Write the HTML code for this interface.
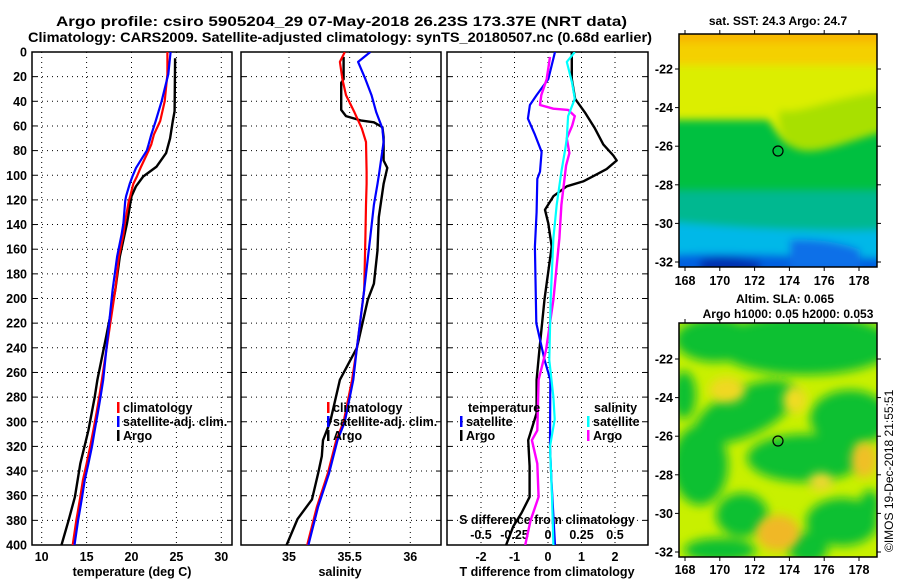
<!DOCTYPE html>
<html><head><meta charset="utf-8"><style>
html,body{margin:0;padding:0;background:#fff;}
svg{display:block;font-family:"Liberation Sans",sans-serif;font-weight:bold;}
</style></head><body>
<svg id="fig" width="900" height="580" viewBox="0 0 900 580" xmlns="http://www.w3.org/2000/svg">
<defs>
<filter id="blur" x="-20%" y="-20%" width="140%" height="140%"><feGaussianBlur stdDeviation="5"/></filter>
<filter id="blur2" x="-20%" y="-20%" width="140%" height="140%"><feGaussianBlur stdDeviation="4"/></filter>
<clipPath id="cm1"><rect x="679" y="34" width="198" height="233"/></clipPath>
<clipPath id="cm2"><rect x="679" y="323" width="198" height="234"/></clipPath>
<clipPath id="cp1"><rect x="32" y="52" width="200" height="493"/></clipPath>
<clipPath id="cp2"><rect x="241" y="52" width="200" height="493"/></clipPath>
<clipPath id="cp3"><rect x="447" y="52" width="201" height="493"/></clipPath>
</defs>
<text x="56" y="26" font-size="14" textLength="571" lengthAdjust="spacingAndGlyphs">Argo profile: csiro 5905204_29 07-May-2018 26.23S 173.37E (NRT data)</text>
<text x="28" y="42" font-size="14" textLength="624" lengthAdjust="spacingAndGlyphs">Climatology: CARS2009. Satellite-adjusted climatology: synTS_20180507.nc (0.68d earlier)</text>

<g clip-path="url(#cm1)">
<rect x="679" y="34" width="198" height="233" fill="#00c040"/>
<g filter="url(#blur2)">
<rect x="670" y="25" width="220" height="95" fill="#d8ec00"/>
<path d="M670 25 H890 V118 C850 125 820 150 800 148 C780 150 770 115 760 112 C730 108 700 118 670 120 Z" fill="#dcee00"/>
<rect x="670" y="25" width="220" height="40" fill="#f4d000"/>
<rect x="670" y="25" width="220" height="18" fill="#f8b800"/>
<path d="M780 110 C800 115 820 100 890 90 V130 C850 140 820 155 800 150 C785 148 775 125 780 110Z" fill="#a8e000"/>
<rect x="670" y="190" width="220" height="40" fill="#00b890"/>
<path d="M670 222 C720 226 780 232 890 230 V280 H670Z" fill="#00b8e8"/>
<path d="M670 255 C720 252 760 255 890 258 V280 H670Z" fill="#0060e0"/>
<path d="M700 260 C720 255 740 258 760 262 V280 H700Z" fill="#0030b0"/>
<path d="M790 240 C820 238 850 245 860 250 V270 H790Z" fill="#1070e8"/>
</g>
</g>
<rect x="679" y="34" width="198" height="233" fill="none" stroke="#000" stroke-width="1.5"/>
<circle cx="778" cy="151" r="5" fill="none" stroke="#000" stroke-width="1.2"/>
<text x="778" y="25" font-size="12" text-anchor="middle">sat. SST: 24.3 Argo: 24.7</text>

<g clip-path="url(#cm2)">
<rect x="679" y="323" width="198" height="234" fill="#c8f000"/>
<g filter="url(#blur)" fill="#10c030">
<ellipse cx="805" cy="345" rx="90" ry="30"/>
<ellipse cx="715" cy="340" rx="40" ry="22"/>
<ellipse cx="745" cy="412" rx="55" ry="24" transform="rotate(-25 745 412)"/>
<ellipse cx="700" cy="465" rx="28" ry="40"/>
<ellipse cx="805" cy="458" rx="58" ry="24"/>
<ellipse cx="850" cy="418" rx="40" ry="28"/>
<ellipse cx="684" cy="395" rx="12" ry="24"/>
<ellipse cx="742" cy="515" rx="26" ry="22"/>
<ellipse cx="842" cy="522" rx="36" ry="24"/>
<ellipse cx="720" cy="550" rx="36" ry="12"/>
<ellipse cx="808" cy="548" rx="20" ry="16"/>
<ellipse cx="870" cy="505" rx="10" ry="15"/>
</g>
<g filter="url(#blur)">
<ellipse cx="727" cy="390" rx="18" ry="13" fill="#f0d820"/>
<ellipse cx="778" cy="533" rx="22" ry="18" fill="#f0b828"/>
<ellipse cx="864" cy="460" rx="13" ry="18" fill="#f0c028"/>
<ellipse cx="821" cy="482" rx="12" ry="9" fill="#f0d830"/>
<ellipse cx="795" cy="400" rx="12" ry="14" fill="#f0dc20"/>
</g>
</g>
<rect x="679" y="323" width="198" height="234" fill="none" stroke="#000" stroke-width="1.5"/>
<circle cx="778" cy="441" r="5" fill="none" stroke="#000" stroke-width="1.2"/>
<text x="785" y="303" font-size="12" text-anchor="middle">Altim. SLA: 0.065</text>
<text x="788" y="318" font-size="12" text-anchor="middle">Argo h1000: 0.05 h2000: 0.053</text>
<text transform="translate(893,552) rotate(-90)" font-size="12" font-weight="normal">©IMOS 19-Dec-2018 21:55:51</text>
<g id="plots"></g>
</svg>
<script>
// ---------- data ----------
const tempDepth = [0,18,40,56,67,75,80,94,101,107,117,121,139,148,166,193,266,280,293,307,320,334,347,361,374,380,400];
const tempClim = [24.0,24.0,23.7,23.2,22.5,22.2,21.9,21.0,20.6,20.2,19.85,19.7,19.25,19.1,18.6,18.2,16.7,16.4,16.1,15.75,15.4,15.0,14.6,14.3,14.0,13.85,13.45];
const tempSat  = [24.35,24.1,23.35,22.7,22.2,21.9,21.7,20.5,20.1,19.8,19.4,19.3,19.1,18.9,18.4,17.9,16.85,16.55,16.25,15.9,15.6,15.2,14.8,14.5,14.2,14.05,13.65];
const argoTDepth = [5,48,56,70,82,93,101,109,117,139,166,193,230,266,280,307,334,361,380,400];
const argoTemp   = [24.85,24.8,24.6,24.3,23.85,22.8,21.3,20.5,20.0,19.5,18.7,18.2,17.2,16.2,15.9,15.2,14.3,13.7,13.0,12.2];

const salDepth = [0,8,22,35,49,62,73,97,107,124,150,193,240,266,300,315,342,369,400];
const salClim  = [35.46,35.42,35.44,35.47,35.54,35.60,35.635,35.64,35.64,35.635,35.63,35.62,35.56,35.52,35.45,35.39,35.32,35.23,35.15];
const salSat   = [35.67,35.57,35.63,35.68,35.72,35.77,35.78,35.745,35.73,35.70,35.67,35.62,35.56,35.53,35.46,35.40,35.33,35.24,35.16];
const argoSDepth = [4,22,25,47,52,55.5,57,61,69,88,94,107,134,161,188,201,240,266,300,315,328,342,363,379,400];
const argoSal    = [35.45,35.45,35.43,35.43,35.47,35.59,35.70,35.77,35.78,35.78,35.81,35.78,35.74,35.73,35.70,35.65,35.56,35.42,35.34,35.28,35.27,35.24,35.19,35.07,34.98];

const dTDepth = [0,22,38,49,62,75,84,88,95,100,105,109,117,128,139,158,200,240,266,293,315,336,361,374,385,400];
const dTArgo  = [0.71,0.71,0.81,1.1,1.4,1.65,1.95,2.05,1.75,1.4,1.05,0.56,0.16,-0.09,0.01,0.11,-0.1,-0.25,-0.34,-0.34,-0.59,-0.55,-0.55,-0.79,-1.04,-1.25];
const dTSatDepth = [0,22,35,43,54,67,81,97,103,130,158,220,250,266,320,347,400];
const dTSat      = [0.21,0.01,-0.34,-0.54,-0.6,-0.39,-0.19,-0.24,-0.32,-0.34,-0.39,-0.35,-0.1,0.07,0.06,0.1,0.21];
const dSArgoDepth = [4,22,35,43,46,47,52,60,70,82,92,124,151,201,242,266,307,315,334,361,380,400];
const dSArgo      = [0.015,-0.01,-0.05,-0.06,0.04,0.15,0.2,0.18,0.14,0.16,0.135,0.10,0.085,0.04,-0.015,-0.07,-0.08,-0.12,-0.08,-0.07,-0.13,-0.17];
const dSSatDepth = [0,8,25,38,52,70,78,97,124,151,200,250,280,298,320,361,400];
const dSSat      = [0.2,0.14,0.18,0.2,0.15,0.14,0.13,0.10,0.065,0.04,0.02,0.01,0.04,0.05,0.015,0.03,0.04];

const depthTicks = [0,20,40,60,80,100,120,140,160,180,200,220,240,260,280,300,320,340,360,380,400];
const tempTicks = [10,15,20,25,30];
const salTicks = [35,35.5,36];
const salTickLabels = ["35","35.5","36"];
const dTTicks = [-2,-1,0,1,2];
const dSTicks = [-0.5,-0.25,0,0.25,0.5];
const dSTickLabels = ["-0.5","-0.25","0","0.25","0.5"];
const lonTicks = [168,170,172,174,176,178];
const latTicks = [-22,-24,-26,-28,-30,-32];

// ---------- scales ----------
const NS = "http://www.w3.org/2000/svg";
const yDepth = d => 52 + d * 1.2325;
const xTemp = t => 41.7 + (t - 10) * 8.98;
const xSal = s => 289 + (s - 35) * 121.3;
const xDT = t => 548 + t * 33.5;
const xDS = s => 548 + s * 134;
const xLon = l => 685 + (l - 168) * 17.4;
const yLat1 = l => 69 + (-22 - l) * 19.3;
const yLat2 = l => 359 + (-22 - l) * 19.3;

const root = document.getElementById('plots');
function mk(tag, attrs, parent) {
  const e = document.createElementNS(NS, tag);
  for (const k in attrs) e.setAttribute(k, attrs[k]);
  (parent || root).appendChild(e);
  return e;
}
function txt(s, x, y, size, anchor, parent) {
  const t = mk('text', {x: x, y: y, 'font-size': size, 'text-anchor': anchor || 'middle'}, parent);
  t.textContent = s;
  return t;
}

const panels = [
  {x0: 32, x1: 232, name: 'temperature-panel', clip: 'cp1'},
  {x0: 241, x1: 441, name: 'salinity-panel', clip: 'cp2'},
  {x0: 447, x1: 648, name: 'difference-panel', clip: 'cp3'}
];
const gridX = [tempTicks.map(xTemp), salTicks.map(xSal), dTTicks.map(xDT)];
panels.forEach((p, i) => {
  const g = mk('g', {});
  
  
  depthTicks.forEach(d => {
    if (d === 0 || d === 400) return;
    const l = mk('line', {x1: p.x0, x2: p.x1, y1: yDepth(d), y2: yDepth(d), stroke: '#000', 'stroke-width': 1, 'stroke-dasharray': '1 4'}, g);
    
    
    mk('line', {x1: p.x0, x2: p.x0 + 5, y1: yDepth(d), y2: yDepth(d), stroke: '#000'}, g);
    mk('line', {x1: p.x1 - 5, x2: p.x1, y1: yDepth(d), y2: yDepth(d), stroke: '#000'}, g);
  });
  gridX[i].forEach(x => {
    const l = mk('line', {x1: x, x2: x, y1: 52, y2: 545, stroke: '#000', 'stroke-width': 1, 'stroke-dasharray': '1 4'}, g);
    
    
  });
  const fr = mk('rect', {x: p.x0, y: 52, width: p.x1 - p.x0, height: 493, fill: 'none', stroke: '#000', 'stroke-width': 1.5}, g);
  
  
});

depthTicks.forEach(d => {
  const t = txt(String(d), 27, yDepth(d) + 4.5, 12.5, 'end');
  
  
});
tempTicks.forEach(v => {
  const t = txt(String(v), xTemp(v), 561, 12.5);
  
  
});
salTicks.forEach((v, i) => {
  const t = txt(salTickLabels[i], xSal(v), 561, 12.5);
  
  
});
dTTicks.forEach(v => {
  const t = txt(String(v), xDT(v), 561, 12.5);
  
  
});
dSTicks.forEach((v, i) => {
  const t = txt(dSTickLabels[i], xDS(v), 539, 12.5);
  
  
});
let t;
t = txt('temperature (deg C)', 132, 576, 12.5);


t = txt('salinity', 340, 576, 12.5);


t = txt('T difference from climatology', 547, 576, 12.5);


t = txt('S difference from climatology', 547, 524, 12.5);



function series(depths, vals, xf, color, w, clip, name) {
  const pts = depths.map((d, i) => xf(vals[i]).toFixed(1) + ',' + yDepth(d).toFixed(1)).join(' ');
  const pl = mk('polyline', {points: pts, fill: 'none', stroke: color, 'stroke-width': w, 'stroke-linejoin': 'round', 'clip-path': 'url(#' + clip + ')'});
  
  
}
series(argoTDepth, argoTemp, xTemp, '#000', 2.4, 'cp1', 'argo-temperature-line');
series(tempDepth, tempClim, xTemp, '#f00', 2.2, 'cp1', 'climatology-temperature-line');
series(tempDepth, tempSat, xTemp, '#00f', 2.2, 'cp1', 'satellite-temperature-line');
series(argoSDepth, argoSal, xSal, '#000', 2.4, 'cp2', 'argo-salinity-line');
series(salDepth, salClim, xSal, '#f00', 2.2, 'cp2', 'climatology-salinity-line');
series(salDepth, salSat, xSal, '#00f', 2.2, 'cp2', 'satellite-salinity-line');
series(dTDepth, dTArgo, xDT, '#000', 2.4, 'cp3', 'argo-t-diff-line');
series(dTSatDepth, dTSat, xDT, '#00f', 2.2, 'cp3', 'satellite-t-diff-line');
series(dSArgoDepth, dSArgo, xDS, '#f0f', 2.4, 'cp3', 'argo-s-diff-line');
series(dSSatDepth, dSSat, xDS, '#0ff', 2.2, 'cp3', 'satellite-s-diff-line');

function legend(x, y, color, label, name) {
  if (color) mk('rect', {x: x, y: y - 10, width: 2.5, height: 11, fill: color});
  const tt = txt(label, x + 6, y, 12.5, 'start');
  
  
}
legend(117, 412, '#f00', 'climatology', 'legend-climatology');
legend(117, 426, '#00f', 'satellite-adj. clim.', 'legend-satellite-adj');
legend(117, 440, '#000', 'Argo', 'legend-argo');
legend(327, 412, '#f00', 'climatology', 'legend-climatology-sal');
legend(327, 426, '#00f', 'satellite-adj. clim.', 'legend-satellite-adj-sal');
legend(327, 440, '#000', 'Argo', 'legend-argo-sal');
legend(462, 412, null, 'temperature', 'legend-temperature-heading');
legend(460, 426, '#00f', 'satellite', 'legend-t-satellite');
legend(460, 440, '#000', 'Argo', 'legend-t-argo');
legend(588, 412, null, 'salinity', 'legend-salinity-heading');
legend(587, 426, '#0ff', 'satellite', 'legend-s-satellite');
legend(587, 440, '#f0f', 'Argo', 'legend-s-argo');

[[267, yLat1, 285], [557, yLat2, 574]].forEach(([yb, yl, ly], mi) => {
  lonTicks.forEach(l => {
    mk('line', {x1: xLon(l), x2: xLon(l), y1: yb, y2: yb + 4, stroke: '#000'});
    mk('line', {x1: xLon(l), x2: xLon(l), y1: yb - (mi ? 234 : 233), y2: yb - (mi ? 238 : 237), stroke: '#000'});
    const tt = txt(String(l), xLon(l), ly, 12.5);
    
    
  });
  latTicks.forEach(l => {
    mk('line', {x1: 679, x2: 675, y1: yl(l), y2: yl(l), stroke: '#000'});
    mk('line', {x1: 877, x2: 881, y1: yl(l), y2: yl(l), stroke: '#000'});
    const tt = txt(String(l), 673, yl(l) + 4.5, 12.5, 'end');
    
    
  });
});
</script>
</body></html>
